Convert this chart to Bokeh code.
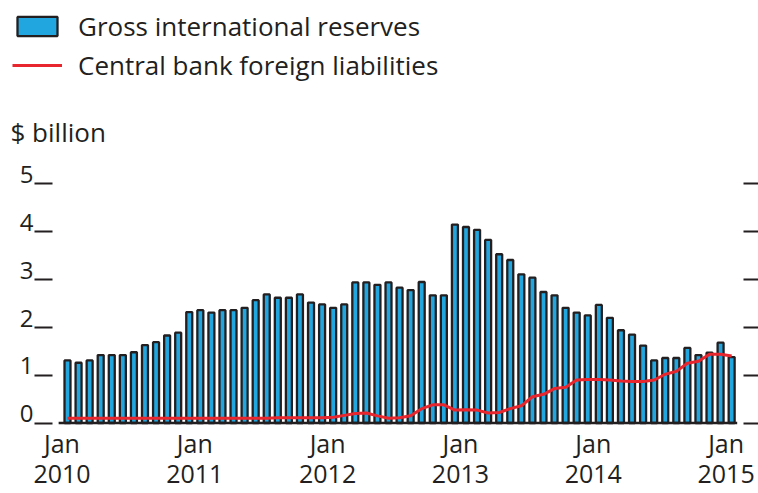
from bokeh.plotting import figure
from bokeh.layouts import column
from bokeh.models import (Range1d, LinearAxis, FixedTicker, Legend, LegendItem,
                          Label, ColumnDataSource)
from bokeh.embed import file_html
from bokeh.resources import INLINE

# ---- data (monthly, Jan 2010 .. Jan 2015), $ billion ----
months = list(range(61))  # month index, 0 = Jan 2010
reserves = [1.31, 1.26, 1.31, 1.42, 1.42, 1.42, 1.48, 1.63, 1.69, 1.83, 1.89, 2.32,
            2.36, 2.31, 2.36, 2.36, 2.41, 2.57, 2.69, 2.62, 2.62, 2.69, 2.52, 2.48,
            2.41, 2.48, 2.94, 2.94, 2.89, 2.94, 2.83, 2.78, 2.95, 2.67, 2.67, 4.15,
            4.10, 4.04, 3.83, 3.53, 3.41, 3.11, 3.04, 2.74, 2.67, 2.41, 2.31, 2.25,
            2.47, 2.20, 1.94, 1.85, 1.62, 1.31, 1.36, 1.36, 1.57, 1.42, 1.47, 1.68,
            1.38]
liabilities = [0.10, 0.10, 0.10, 0.10, 0.10, 0.10, 0.10, 0.10, 0.10, 0.10, 0.10, 0.10,
               0.10, 0.10, 0.10, 0.10, 0.10, 0.10, 0.10, 0.11, 0.11, 0.11, 0.11, 0.11,
               0.12, 0.16, 0.20, 0.21, 0.15, 0.10, 0.11, 0.15, 0.30, 0.38, 0.38, 0.27,
               0.28, 0.27, 0.21, 0.22, 0.30, 0.36, 0.55, 0.60, 0.72, 0.75, 0.90, 0.91,
               0.91, 0.90, 0.88, 0.87, 0.87, 0.90, 1.02, 1.08, 1.25, 1.29, 1.44, 1.44,
               1.40]
tick_months = [0, 12, 24, 36, 48, 60]
tick_month_labels = ["Jan", "Jan", "Jan", "Jan", "Jan", "Jan"]
tick_year_labels = ["2010", "2011", "2012", "2013", "2014", "2015"]
y_ticks = [0, 1, 2, 3, 4, 5]
series_names = ["Gross international reserves", "Central bank foreign liabilities"]
unit_label = "$ billion"

DARK = "#231f20"
BLUE = "#22a6df"
RED = "#e8262d"
FONT = "Open Sans"
NAN = float("nan")

BAR_STYLE = dict(fill_color=BLUE, line_color=DARK, line_width=2.3)
LINE_STYLE = dict(line_color=RED, line_width=3)

# ------------------------------------------------------------------ header
top = figure(width=758, height=150, output_backend="svg", toolbar_location=None,
             x_range=Range1d(0, 1), y_range=Range1d(0, 1),
             x_axis_location=None, y_axis_location=None,
             min_border=0, outline_line_color=None, frame_align=False)
top.xgrid.grid_line_color = None
top.ygrid.grid_line_color = None
# key-only renderers (nothing visible is drawn by them)
key_bar = top.vbar(x=[NAN], top=[NAN], width=0.1, **BAR_STYLE)
key_line = top.line(x=[NAN, NAN], y=[NAN, NAN], **LINE_STYLE)
legend = Legend(items=[LegendItem(label=series_names[0], renderers=[key_bar]),
                       LegendItem(label=series_names[1], renderers=[key_line])],
                location=(12, 67), orientation="vertical",
                glyph_width=50, glyph_height=24, label_height=35, spacing=3,
                padding=0, margin=0, border_line_color=None,
                background_fill_alpha=0, label_standoff=16,
                label_text_font=FONT, label_text_font_size="26px",
                label_text_color=DARK)
top.add_layout(legend)
top.add_layout(Label(x=10, y=19, x_units="screen", y_units="screen",
                     text=unit_label, text_font=FONT, text_font_size="26px",
                     text_baseline="middle", text_color=DARK))

# ------------------------------------------------------------------ chart
src = ColumnDataSource(dict(m=months, reserves=reserves, liab=liabilities))

Y0, Y1 = -0.052, 5.70
X0, X1 = -1.355, 61.07
p = figure(width=758, height=343, output_backend="svg", toolbar_location=None,
           x_range=Range1d(X0, X1), y_range=Range1d(Y0, Y1),
           x_axis_location=None, y_axis_location=None,
           min_border_left=52, min_border_right=15, min_border_top=0,
           min_border_bottom=68, outline_line_color=None, frame_align=False)
p.xgrid.grid_line_color = None
p.ygrid.grid_line_color = None

# left: tick marks only
p.add_layout(LinearAxis(ticker=FixedTicker(ticks=y_ticks), axis_line_color=None,
                        major_tick_out=18, major_tick_in=0,
                        major_tick_line_color=DARK, major_tick_line_width=2,
                        minor_tick_line_color=None, major_label_standoff=0,
                        major_label_overrides={t: "" for t in y_ticks}), "left")
# left: labels sitting on top of the tick marks
p.extra_y_ranges = {"lbl": Range1d(Y0 - 0.195, Y1 - 0.195)}
p.add_layout(LinearAxis(y_range_name="lbl", ticker=FixedTicker(ticks=y_ticks),
                        axis_line_color=None, major_tick_out=0, major_tick_in=0,
                        major_tick_line_color=None, minor_tick_line_color=None,
                        major_label_standoff=1, major_label_text_font=FONT,
                        major_label_text_font_size="24px",
                        major_label_text_color=DARK), "left")
# right: tick marks only
p.add_layout(LinearAxis(ticker=FixedTicker(ticks=y_ticks), axis_line_color=None,
                        major_tick_out=15, major_tick_in=0,
                        major_tick_line_color=DARK, major_tick_line_width=2,
                        minor_tick_line_color=None, major_label_standoff=0,
                        major_label_overrides={t: "" for t in y_ticks}), "right")

# bottom: two rows of labels (month, year), centred on the start of January
p.extra_x_ranges = {"lbl": Range1d(X0 + 0.5, X1 + 0.5)}
p.add_layout(LinearAxis(x_range_name="lbl", ticker=FixedTicker(ticks=tick_months),
                        axis_line_color=None, major_tick_out=0, major_tick_in=0,
                        major_tick_line_color=None, minor_tick_line_color=None,
                        major_label_standoff=0, major_label_text_font=FONT,
                        major_label_text_font_size="25px",
                        major_label_text_color=DARK,
                        major_label_overrides=dict(zip(tick_months, tick_month_labels))),
             "below")
p.add_layout(LinearAxis(x_range_name="lbl", ticker=FixedTicker(ticks=tick_months),
                        axis_line_color=None, major_tick_out=0, major_tick_in=0,
                        major_tick_line_color=None, minor_tick_line_color=None,
                        major_label_standoff=2, major_label_text_font=FONT,
                        major_label_text_font_size="25px",
                        major_label_text_color=DARK,
                        major_label_overrides=dict(zip(tick_months, tick_year_labels))),
             "below")

p.vbar(x="m", top="reserves", bottom=0, width=0.54, source=src, **BAR_STYLE)
p.line(x=[months[0] - 0.8, months[-1] + 0.5], y=[0, 0], line_color=DARK,
       line_width=2.5)
p.line(x="m", y="liab", source=src, **LINE_STYLE)

layout = column(top, p, spacing=0)
open("out.html", "w").write(file_html(layout, INLINE))
